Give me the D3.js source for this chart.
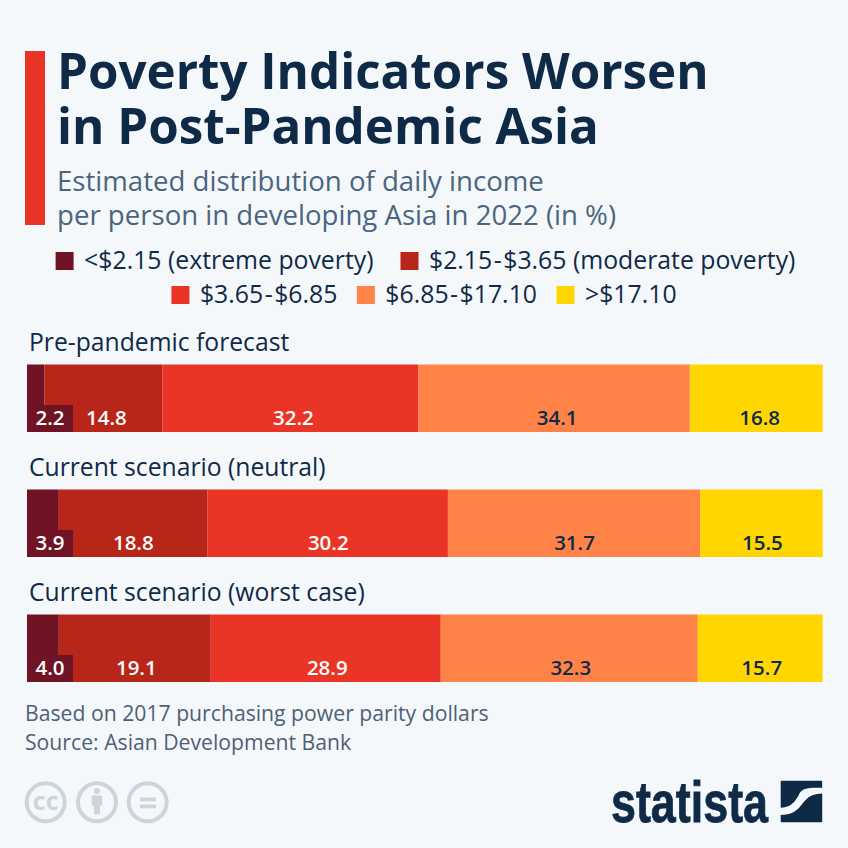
<!DOCTYPE html>
<html>
<head>
<meta charset="utf-8">
<script src="https://cdn.jsdelivr.net/npm/d3@7"></script>
<style>
  html, body { margin: 0; padding: 0; background: #f4f8fb; }
  svg { display: block; font-family: "Open Sans", sans-serif; }
</style>
</head>
<body>
<svg id="chart" width="848" height="848"></svg>
<script>
const scenarios = ["Pre-pandemic forecast", "Current scenario (neutral)", "Current scenario (worst case)"];
const brackets = ["<$2.15 (extreme poverty)", "$2.15-$3.65 (moderate poverty)", "$3.65-$6.85", "$6.85-$17.10", ">$17.10"];
const extremePoverty = [2.2, 3.9, 4.0];
const moderatePoverty = [14.8, 18.8, 19.1];
const lowIncome = [32.2, 30.2, 28.9];
const middleIncome = [34.1, 31.7, 32.3];
const highIncome = [16.8, 15.5, 15.7];
const seriesValues = [extremePoverty, moderatePoverty, lowIncome, middleIncome, highIncome];
const bracketColors = ["#701425", "#b8261a", "#ea3526", "#ff8347", "#ffd600"];
const labelColors = ["#fff", "#fff", "#fff", "#0f2a47", "#0f2a47"];
const titleLines = ["Poverty Indicators Worsen", "in Post-Pandemic Asia"];
const subtitleLines = ["Estimated distribution of daily income", "per person in developing Asia in 2022 (in %)"];
const footerLines = ["Based on 2017 purchasing power parity dollars", "Source: Asian Development Bank"];

const navy = "#0f2a47";
const svg = d3.select("#chart");

svg.append("rect").attr("x", 25).attr("y", 51).attr("width", 20).attr("height", 174).attr("fill", "#ea3526");

svg.selectAll(".title").data(titleLines).join("text")
  .attr("class", "title")
  .attr("x", 57).attr("y", (d, i) => 89 + i * 55)
  .attr("font-size", 49.3).attr("font-weight", 700).attr("fill", navy)
  .text((d) => d);

svg.selectAll(".subtitle").data(subtitleLines).join("text")
  .attr("class", "subtitle")
  .attr("x", 57).attr("y", (d, i) => 191 + i * 34)
  .attr("font-size", 27.6).attr("fill", "#4a6580")
  .text((d) => d);

// legend: two centered rows, widths measured from the text
const legendRows = [brackets.slice(0, 2), brackets.slice(2)];
const legendGaps = [27, 22.5];
let colorIdx = 0;
legendRows.forEach((row, r) => {
  const g = svg.append("g");
  let x = 0;
  row.forEach((name) => {
    const item = g.append("g").attr("transform", `translate(${x},0)`);
    item.append("rect").attr("y", 0).attr("width", 18).attr("height", 18).attr("fill", bracketColors[colorIdx]);
    const t = item.append("text").attr("x", 28.5).attr("y", 17).attr("font-size", 24.8).attr("fill", navy);
    // the ranges have a little air around the hyphen
    name.split("-").forEach((part, k, parts) => {
      t.append("tspan").attr("dx", k > 0 ? 1.5 : 0).text(k < parts.length - 1 ? part : part);
      if (k < parts.length - 1) t.append("tspan").attr("dx", 1.5).text("-");
    });
    x += 28.5 + t.node().getComputedTextLength() + legendGaps[r];
    colorIdx++;
  });
  const total = x - legendGaps[r];
  g.attr("transform", `translate(${(848 - total) / 2},${252 + r * 34})`);
});

// stacked bars
const rows = scenarios.map((name, i) => {
  const row = { name };
  brackets.forEach((b, j) => { row[b] = seriesValues[j][i]; });
  return row;
});
const stacked = d3.stack().keys(brackets)(rows);

const x = d3.scaleLinear().domain([0, 100]).range([27, 822.7]);
const y = d3.scaleBand().domain(scenarios).range([364.5, 682]).paddingInner(0.46);
const clip = (v) => Math.min(x(v), x.range()[1]);
const labelNudge = d3.scaleOrdinal().domain(scenarios).range([3, 0.5, 1.5]);

svg.selectAll(".scenario").data(scenarios).join("text")
  .attr("class", "scenario")
  .attr("x", 29).attr("y", (d) => y(d) - 14)
  .attr("font-size", 24.7).attr("fill", navy)
  .text((d) => d);

const layers = svg.selectAll(".layer").data(stacked).join("g")
  .attr("class", "layer")
  .attr("fill", (d, i) => bracketColors[i]);

layers.selectAll("rect").data((d) => d).join("rect")
  .attr("x", (d) => x(d[0]))
  .attr("y", (d) => y(d.data.name))
  .attr("width", (d) => clip(d[1]) - x(d[0]))
  .attr("height", y.bandwidth());

// the first label sits on a dark box because its segment is too narrow
svg.selectAll(".label-box").data(scenarios).join("rect")
  .attr("class", "label-box")
  .attr("x", x(0)).attr("y", (d) => y(d) + y.bandwidth() - 27)
  .attr("width", 46).attr("height", 27)
  .attr("fill", bracketColors[0]);

stacked.forEach((layer, i) => {
  svg.selectAll(`.value-${i}`).data(layer).join("text")
    .attr("class", `value-${i}`)
    .attr("x", (d) => Math.max(50, x((d[0] + d[1]) / 2) + labelNudge(d.data.name)))
    .attr("y", (d) => y(d.data.name) + y.bandwidth() - 7)
    .attr("text-anchor", "middle")
    .attr("font-size", 20.5).attr("font-weight", 600)
    .attr("fill", labelColors[i])
    .text((d) => (d[1] - d[0]).toFixed(1));
});

svg.selectAll(".footer").data(footerLines).join("text")
  .attr("class", "footer")
  .attr("x", 25).attr("y", (d, i) => 721 + i * 29)
  .attr("font-size", 21.2).attr("fill", "#4f5f78")
  .text((d) => d);

// licence icons
const grey = "#ccd4dd";
const icons = svg.append("g").attr("fill", "none").attr("stroke", grey).attr("stroke-width", 4);
[45.7, 97, 147.7].forEach((cx) => icons.append("circle").attr("cx", cx).attr("cy", 802.3).attr("r", 19));
svg.append("text").attr("x", 45.7).attr("y", 810).attr("text-anchor", "middle")
  .attr("font-size", 25).attr("font-weight", 700).attr("fill", grey).text("cc");
svg.append("circle").attr("cx", 97).attr("cy", 791).attr("r", 3).attr("fill", grey);
svg.append("rect").attr("x", 91.7).attr("y", 795.7).attr("width", 10.6).attr("height", 10).attr("fill", grey);
svg.append("rect").attr("x", 94).attr("y", 795.7).attr("width", 6).attr("height", 18.6).attr("fill", grey);
svg.append("rect").attr("x", 140).attr("y", 797.5).attr("width", 16).attr("height", 3.8).attr("fill", grey);
svg.append("rect").attr("x", 140).attr("y", 804.5).attr("width", 16).attr("height", 3.8).attr("fill", grey);

// statista wordmark
svg.append("text").attr("x", 611).attr("y", 821.5)
  .attr("font-family", "'Liberation Sans Narrow', 'Liberation Sans', sans-serif")
  .attr("font-size", 58).attr("font-weight", 700).attr("fill", navy)
  .attr("stroke", navy).attr("stroke-width", 0.8)
  .attr("textLength", 157).attr("lengthAdjust", "spacingAndGlyphs")
  .text("statista");
svg.append("rect").attr("x", 780.7).attr("y", 780.7).attr("width", 41.5).attr("height", 41.5).attr("rx", 1).attr("fill", navy);
svg.append("path")
  .attr("d", "M780 807.7C790 807.7 795 803 800 792.5C804 787.5 810 787.7 823 787.7V793.5C812 793.5 808 797 803 803C797 811 792 815 780 815Z")
  .attr("fill", "#f4f8fb");
</script>
</body>
</html>
